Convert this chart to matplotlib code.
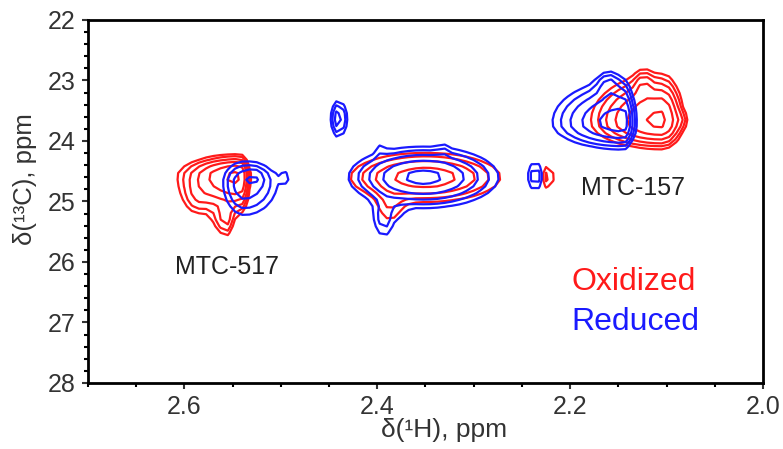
import numpy as np
import matplotlib
matplotlib.use("Agg")
import matplotlib.pyplot as plt
from matplotlib.ticker import MultipleLocator

plt.rcParams['font.family'] = ['Liberation Sans', 'DejaVu Sans']

# peak list for each spectrum (asymmetric gaussians)
# h, c = centre (1H, 13C ppm); wl/wr = 1H width to the left/right of the axis,
# wu/wd = 13C width upward/downward, amp = height
ox_h  = [2.543, 2.556, 2.588, 2.350, 2.387, 2.222, 2.105, 2.124, 2.085]
ox_c  = [24.58, 25.30, 25.00, 24.60, 25.15, 24.60, 23.68, 23.05, 23.65]
ox_wl = [0.034, 0.010, 0.010, 0.050, 0.012, 0.004, 0.039, 0.006, 0.004]
ox_wr = [0.006, 0.005, 0.010, 0.050, 0.012, 0.004, 0.012, 0.006, 0.004]
ox_wu = [0.19, 0.15, 0.20, 0.26, 0.20, 0.18, 0.42, 0.15, 0.10]
ox_wd = [0.33, 0.22, 0.20, 0.26, 0.25, 0.18, 0.24, 0.15, 0.10]
ox_amp = [0.70, 0.22, 0.10, 0.40, 0.13, 0.22, 0.70, 0.15, 0.12]

red_h  = [2.538, 2.527, 2.497, 2.440, 2.352, 2.393, 2.396, 2.332, 2.372, 2.236, 2.145, 2.160]
red_c  = [24.68, 24.60, 24.60, 23.63, 24.60, 25.30, 24.10, 24.15, 25.25, 24.58, 23.70, 23.05]
red_wl = [0.016, 0.006, 0.003, 0.006, 0.046, 0.010, 0.004, 0.004, 0.004, 0.005, 0.042, 0.008]
red_wr = [0.025, 0.006, 0.003, 0.006, 0.046, 0.010, 0.004, 0.004, 0.004, 0.005, 0.0075, 0.008]
red_wu = [0.25, 0.10, 0.08, 0.22, 0.30, 0.20, 0.12, 0.10, 0.10, 0.20, 0.40, 0.15]
red_wd = [0.40, 0.10, 0.08, 0.22, 0.30, 0.28, 0.12, 0.10, 0.10, 0.20, 0.25, 0.15]
red_amp = [0.30, 0.10, 0.13, 0.30, 0.50, 0.18, 0.06, 0.05, 0.06, 0.22, 0.55, 0.15]

levels = [0.12, 0.168, 0.235, 0.329, 0.461, 0.645, 0.9]

x = np.arange(2.0, 2.7, 0.0075)
y = np.arange(22.0, 28.0, 0.11)
X, Y = np.meshgrid(x, y)


def spectrum(h, c, wl, wr, wu, wd, amp):
    z = np.zeros_like(X)
    for i in range(len(h)):
        wx = np.where(X > h[i], wl[i], wr[i])
        wy = np.where(Y < c[i], wu[i], wd[i])
        z += amp[i] * np.exp(-0.5 * ((X - h[i]) / wx) ** 2 - 0.5 * ((Y - c[i]) / wy) ** 2)
    return z


z_ox = spectrum(ox_h, ox_c, ox_wl, ox_wr, ox_wu, ox_wd, ox_amp)
z_red = spectrum(red_h, red_c, red_wl, red_wr, red_wu, red_wd, red_amp)

fig = plt.figure(figsize=(7.83, 4.49), dpi=100)
ax = fig.add_axes([0.1124, 0.147, 0.862, 0.8085])

ax.contour(X, Y, z_ox, levels=levels, colors='#ff1a1a', linewidths=1.6)
ax.contour(X, Y, z_red, levels=levels, colors='#1a1aff', linewidths=1.6)

ax.set_xlim(2.7, 2.0)
ax.set_ylim(28, 22)

ax.xaxis.set_minor_locator(MultipleLocator(0.05))
ax.yaxis.set_major_locator(MultipleLocator(1))
ax.yaxis.set_minor_locator(MultipleLocator(0.2))
ax.set_xticks([2.6, 2.4, 2.2, 2.0])
ax.set_xticklabels(['2.6', '2.4', '2.2', '2.0'])
ax.tick_params(axis='both', which='major', length=4, width=1.5, labelsize=18, pad=5, colors='#333333')
ax.tick_params(axis='both', which='minor', length=3, width=1.5)
for s in ax.spines.values():
    s.set_linewidth(2)

ax.set_xlabel('δ(¹H), ppm', fontsize=19, color='#333333')
ax.xaxis.set_label_coords(0.527, -0.096)
ax.set_ylabel('δ(¹³C), ppm', fontsize=18.5, color='#333333')
ax.yaxis.set_label_coords(-0.076, 0.562)

ax.text(2.556, 26.08, 'MTC-517', fontsize=18, ha='center', va='center', color='#222222')
ax.text(2.135, 24.78, 'MTC-157', fontsize=18, ha='center', va='center', color='#222222')
ax.text(2.134, 26.33, 'Oxidized', fontsize=23, ha='center', va='center', color='#ff1a1a')
ax.text(2.132, 27.0, 'Reduced', fontsize=23, ha='center', va='center', color='#1a1aff')

fig.savefig('out.png', dpi=100)
